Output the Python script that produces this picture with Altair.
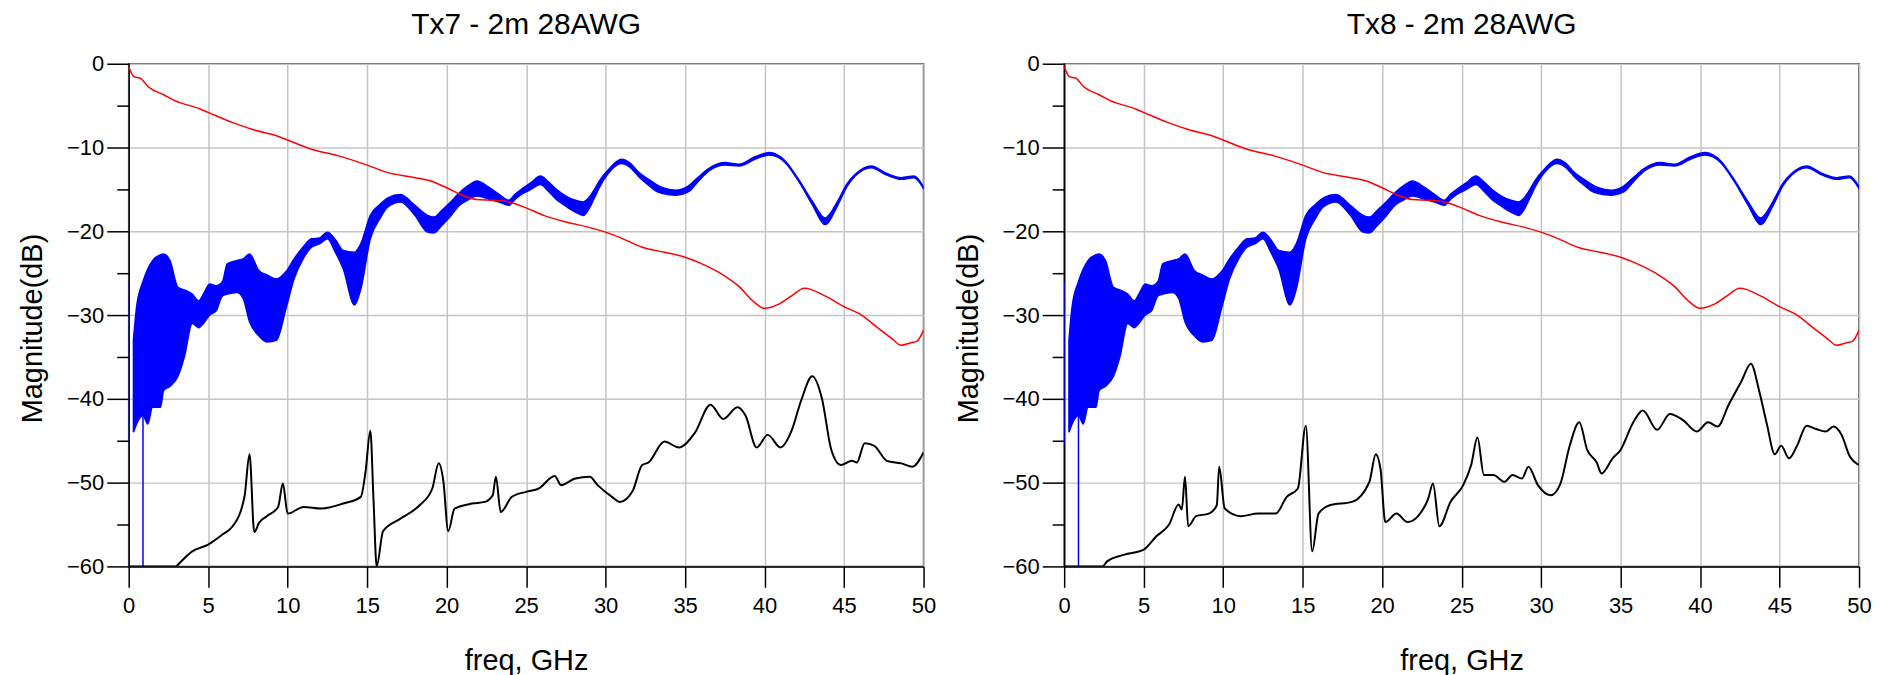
import altair as alt
import pandas as pd

FONT = "Liberation Sans"
TITLES = ["Tx7 - 2m 28AWG", "Tx8 - 2m 28AWG"]
X_TICKS = list(range(0, 51, 5))
Y_TICKS = list(range(-60, 1, 5))

# Insertion loss (red)
RED_F = [0.0, 0.3, 0.8, 1.15, 2.2, 2.9, 4.5, 5.0, 6.5, 7.9, 9.3, 10.0, 11.5, 13.2, 15.0, 16.3,
         17.7, 19.0, 20.0, 21.0, 21.9, 23.0, 23.9, 25.0, 26.1, 27.5, 28.9, 30.0, 31.1, 32.3,
         33.7, 35.0, 36.3, 37.3, 38.4, 39.2, 40.0, 40.9, 41.7, 42.5, 43.8, 45.0, 46.1, 47.1,
         48.0, 48.6, 49.2, 49.6, 50.0]
RED_DB = [-0.3, -1.5, -1.8, -2.6, -3.7, -4.4, -5.4, -5.8, -7.0, -7.9, -8.6, -9.1, -10.2, -11.0,
          -12.1, -13.0, -13.5, -14.0, -14.8, -15.7, -16.2, -16.3, -16.5, -17.2, -18.1, -18.9,
          -19.5, -20.1, -20.9, -21.9, -22.5, -23.1, -24.1, -25.1, -26.6, -28.2, -29.2, -28.7,
          -27.7, -26.8, -27.7, -29.0, -30.0, -31.5, -32.8, -33.6, -33.3, -33.1, -31.8]

# Return loss (blue) envelope of the rippled trace
BLUE_F = [0.3, 0.5, 0.9, 1.2, 1.5, 2.0, 2.2, 2.6, 3.1, 3.5, 4.0, 4.4, 4.7, 5.1, 5.5, 5.9, 6.2,
          6.8, 7.2, 7.6, 8.2, 8.7, 9.3, 9.9, 10.4, 11.0, 11.5, 12.0, 12.5, 13.0, 13.5, 14.2,
          14.6, 15.2, 15.8, 16.3, 17.1, 18.0, 18.8, 19.2, 19.7, 20.2, 20.8, 21.4, 21.9, 22.7,
          23.3, 23.9, 24.3, 24.7, 25.3, 25.9, 26.4, 26.9, 27.5, 28.1, 28.6, 28.9, 29.3, 29.6,
          30.2, 31.0, 31.5, 32.1, 32.7, 33.1, 33.6, 34.4, 35.2, 35.8, 36.5, 37.5, 38.4, 39.4,
          40.3, 41.3, 42.1, 43.0, 43.8, 44.6, 45.2, 45.7, 46.7, 47.7, 48.6, 49.4, 50.0]
BLUE_HI = [-33.0, -29.0, -26.0, -24.5, -23.5, -22.8, -22.7, -23.5, -26.7, -27.0, -27.5, -28.3,
           -27.5, -26.3, -26.5, -26.0, -23.9, -23.5, -23.3, -22.7, -24.7, -25.2, -25.7, -24.8,
           -23.3, -21.8, -20.9, -20.8, -20.1, -21.0, -22.3, -22.5, -21.5, -18.1, -16.8, -16.0,
           -15.6, -16.9, -18.1, -18.3, -17.5, -16.6, -15.4, -14.5, -14.0, -14.8, -15.6, -16.3,
           -15.6, -15.0, -14.2, -13.4, -14.1, -15.0, -15.8, -16.3, -16.5, -16.1, -15.0, -14.0,
           -12.6, -11.4, -11.8, -13.0, -13.8, -14.3, -14.8, -15.1, -14.6, -13.6, -12.5, -11.8,
           -12.0, -11.1, -10.6, -11.6, -13.7, -16.4, -18.4, -16.4, -14.3, -13.2, -12.2, -13.1,
           -13.6, -13.4, -14.7]
BLUE_LO = [-44.0, -43.0, -42.0, -43.0, -41.0, -41.0, -39.0, -38.5, -37.3, -35.0, -31.0, -31.5,
           -31.0, -30.0, -29.5, -27.7, -27.5, -27.3, -28.0, -30.8, -32.5, -33.2, -33.0, -29.2,
           -25.7, -23.2, -21.9, -21.5, -20.9, -22.5, -24.5, -28.8, -26.9, -20.9, -18.5, -17.1,
           -16.5, -18.1, -20.1, -20.2, -19.3, -18.3, -16.9, -16.2, -15.8, -16.2, -16.5, -16.9,
           -16.2, -15.6, -15.0, -14.4, -15.2, -16.2, -17.0, -17.7, -18.1, -17.5, -16.0, -14.8,
           -13.0, -11.9, -12.3, -13.5, -14.5, -15.1, -15.5, -15.7, -15.3, -14.1, -12.8, -12.1,
           -12.2, -11.4, -10.9, -11.8, -13.9, -16.8, -19.2, -16.9, -14.6, -13.4, -12.4, -13.3,
           -13.8, -13.6, -14.9]
SPIKE_F = [0.0, 0.9]
SPIKE_HI = [-26.0, -42.0]
SPIKE_LO = [-45.4, -60.0]

# Crosstalk (black)
TX7_F = [0.0, 3.0, 3.1, 4.0, 5.0, 5.9, 6.5, 7.1, 7.3, 7.6, 7.9, 8.2, 8.7, 9.4, 9.7, 10.0, 11.0,
         12.1, 13.5, 14.6, 14.9, 15.2, 15.4, 15.6, 16.0, 17.1, 18.3, 19.1, 19.5, 19.8, 20.1,
         20.5, 21.6, 22.4, 22.9, 23.1, 23.4, 24.1, 25.0, 25.8, 26.8, 27.2, 28.1, 29.0, 29.5,
         30.4, 30.9, 31.7, 32.3, 32.7, 33.7, 34.6, 35.6, 36.6, 37.4, 38.3, 38.8, 39.5, 40.2,
         41.0, 41.7, 42.3, 43.0, 43.6, 44.2, 44.8, 45.5, 45.8, 46.3, 46.9, 47.7, 48.6, 49.3,
         50.0]
TX7_DB = [-60.0, -60.0, -59.8, -58.2, -57.4, -56.2, -55.3, -53.1, -51.5, -46.6, -55.9, -54.8,
          -54.0, -52.9, -50.1, -53.7, -52.9, -53.1, -52.5, -51.7, -48.7, -43.8, -52.0, -60.0,
          -55.8, -54.3, -52.7, -50.7, -47.7, -49.9, -55.8, -53.1, -52.5, -52.3, -51.5, -49.3,
          -53.5, -51.7, -51.1, -50.7, -49.2, -50.3, -49.5, -49.3, -50.3, -51.7, -52.3, -51.0,
          -47.9, -47.6, -45.1, -45.8, -44.1, -40.7, -42.4, -41.0, -42.0, -45.8, -44.3, -45.8,
          -43.8, -40.2, -37.3, -39.9, -46.1, -47.9, -47.4, -47.6, -45.3, -45.6, -47.4, -47.7,
          -48.1, -46.4]
TX8_F = [0.0, 2.4, 2.7, 3.8, 5.0, 5.8, 6.6, 7.2, 7.4, 7.6, 7.8, 8.3, 9.1, 9.6, 9.75, 10.1, 11.1,
         12.2, 13.3, 14.0, 14.7, 15.2, 15.6, 16.0, 16.7, 18.1, 19.2, 19.6, 19.9, 20.2, 20.9,
         21.6, 22.3, 22.9, 23.2, 23.6, 24.3, 25.1, 25.6, 26.0, 26.4, 27.0, 27.7, 28.2, 28.8,
         29.2, 29.8, 30.6, 31.2, 31.8, 32.4, 32.9, 33.5, 33.8, 34.5, 35.0, 35.8, 36.4, 37.3,
         38.1, 38.9, 39.8, 40.5, 41.1, 41.8, 42.6, 43.2, 43.7, 44.2, 44.7, 45.1, 45.6, 46.1,
         46.7, 47.3, 47.9, 48.4, 48.9, 49.4, 50.0]
TX8_DB = [-60.0, -60.0, -59.4, -58.6, -58.0, -56.4, -55.0, -52.6, -53.2, -49.3, -55.2, -54.0,
          -53.7, -52.7, -48.1, -53.1, -54.0, -53.7, -53.7, -51.7, -50.7, -43.2, -58.2, -53.7,
          -52.7, -52.3, -49.9, -46.6, -48.4, -54.7, -53.7, -54.7, -53.9, -51.9, -50.1, -55.2,
          -52.3, -50.3, -47.9, -44.6, -49.1, -49.1, -49.9, -49.1, -49.5, -48.1, -50.3, -51.5,
          -50.2, -45.6, -42.8, -46.1, -47.6, -48.9, -47.1, -46.1, -42.8, -41.4, -43.7, -41.8,
          -42.5, -43.9, -42.8, -43.3, -40.7, -37.9, -35.8, -38.9, -43.0, -46.6, -45.6, -47.1,
          -45.6, -43.2, -43.6, -43.9, -43.3, -44.3, -46.8, -47.9]

W, H = 797, 504


def panel(title, xt_f, xt_db):
    red = pd.DataFrame({"f": RED_F, "db": RED_DB})
    blue = pd.DataFrame({"f": BLUE_F, "db": BLUE_HI, "lo": BLUE_LO})
    spikes = pd.DataFrame({"f": SPIKE_F, "db": SPIKE_HI, "lo": SPIKE_LO})
    black = pd.DataFrame({"f": xt_f, "db": xt_db})

    x = alt.X("f:Q", title="freq, GHz",
              scale=alt.Scale(domain=[0, 50], nice=False, zero=False),
              axis=alt.Axis(values=X_TICKS, tickSize=21, labelPadding=8, grid=True,
                            titleX=W / 2, titleY=103, titleBaseline="alphabetic",
                            titleAlign="center", labelFlush=False))
    y = alt.Y("db:Q", title="Magnitude(dB)",
              scale=alt.Scale(domain=[-60, 0], nice=False, zero=False),
              axis=alt.Axis(values=Y_TICKS, labelPadding=3, grid=True,
                            tickSize={"condition": {"test": "datum.value % 10 != 0", "value": 12},
                                      "value": 22},
                            gridOpacity={"condition": {"test": "datum.value % 10 != 0", "value": 0},
                                         "value": 1},
                            labelExpr="datum.value % 10 == 0 ? datum.label : ''",
                            titleX=-96, titleY=H / 2 + 13, titleAngle=-90, titleAlign="center",
                            titleBaseline="middle", labelFlush=False))

    band = alt.Chart(blue).mark_area(color="#0000ff", stroke="#0000ff", strokeWidth=1.5,
                                     interpolate="monotone", clip=True).encode(
        x=x, y=y, y2="lo:Q")
    spk = alt.Chart(spikes).mark_rule(color="#0000ff", strokeWidth=1.5, clip=True).encode(
        x=x, y=y, y2="lo:Q")
    blk = alt.Chart(black).mark_line(color="#000000", strokeWidth=2, interpolate="monotone",
                                     clip=True).encode(x=x, y=y)
    rd = alt.Chart(red).mark_line(color="#ff0000", strokeWidth=1.5, interpolate="monotone",
                                  clip=True).encode(x=x, y=y)
    return alt.layer(band, spk, blk, rd).properties(
        width=W, height=H,
        title=alt.TitleParams(title, fontSize=30, font=FONT, fontWeight="normal",
                              anchor="middle", baseline="alphabetic", offset=-11, color="black"))


chart = alt.hconcat(panel(TITLES[0], TX7_F, TX7_DB), panel(TITLES[1], TX8_F, TX8_DB),
                    spacing=141, bounds="flush").properties(
    padding={"left": 10, "top": 0, "right": 5, "bottom": 0}
).configure_view(stroke="#333333", strokeWidth=1.5).configure_axis(
    labelFont=FONT, titleFont=FONT, labelFontSize=22, titleFontSize=29,
    titleFontWeight="normal", labelColor="black", titleColor="black",
    tickColor="black", domainColor="black", gridColor="#c4c4c4", gridWidth=1.5,
    tickWidth=1.5, domainWidth=1.5)

chart.save("out.html", embed_options={"renderer": "svg", "actions": False})
